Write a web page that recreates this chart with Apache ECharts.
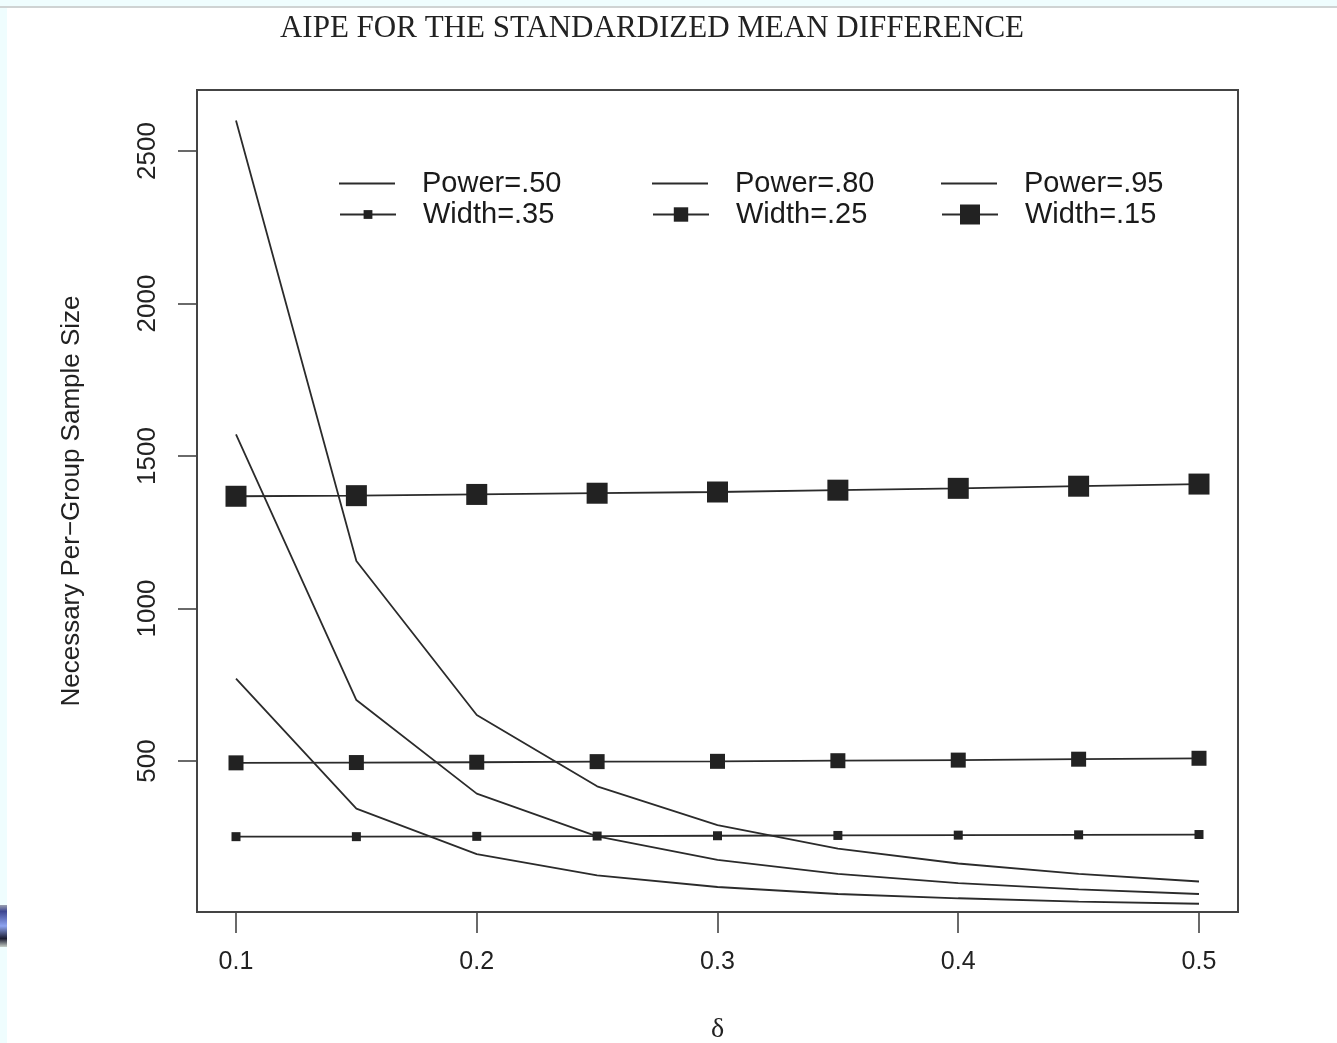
<!DOCTYPE html>
<html>
<head>
<meta charset="utf-8">
<script src="https://cdn.jsdelivr.net/npm/echarts@6/dist/echarts.min.js"></script>
<style>
html,body{margin:0;padding:0;background:#fff;}
#chart{width:1337px;height:1043px;}
</style>
</head>
<body>
<div id="chart"></div>
<script>
// ---- data ----
const deltas = [0.10, 0.15, 0.20, 0.25, 0.30, 0.35, 0.40, 0.45, 0.50];
const power50 = [770, 344, 195, 125, 87, 64, 50, 39, 32];
const power80 = [1571, 700, 393, 253, 176, 130, 100, 79, 64];
const power95 = [2600, 1156, 651, 417, 290, 213, 164, 130, 105];
const width35 = [252, 252, 253, 254, 255, 256, 257, 258, 259];
const width25 = [494, 495, 496, 498, 499, 501, 503, 506, 509];
const width15 = [1368, 1370, 1374, 1378, 1382, 1388, 1394, 1401, 1408];
const xTicks = [0.1, 0.2, 0.3, 0.4, 0.5];
const yTicks = [500, 1000, 1500, 2000, 2500];
const titleText = 'AIPE FOR THE STANDARDIZED MEAN DIFFERENCE';
const xName = 'δ';
const yName = 'Necessary Per\u2212Group Sample Size';

const pair = arr => deltas.map((d, i) => [d, arr[i]]);
const LINE = '#2b2b2b';
const SANS = 'Liberation Sans, Arial, Helvetica, sans-serif';
const SERIF = 'Liberation Serif, Times New Roman, serif';

function powerSeries(name, arr) {
  return {
    name, type: 'line', data: pair(arr), symbol: 'none',
    lineStyle: { color: LINE, width: 1.8 }, itemStyle: { color: LINE },
    silent: true, z: 2
  };
}
function widthSeries(name, arr, size) {
  return {
    name, type: 'line', data: pair(arr), symbol: 'rect', symbolSize: size,
    showSymbol: true, showAllSymbol: true,
    lineStyle: { color: LINE, width: 1.8 }, itemStyle: { color: '#222', opacity: 1 },
    silent: true, z: 3
  };
}
const lineIcon = 'path://M0,0 L56,0 L56,2 L0,2 Z';
function legendFor(name, left, top, opts) {
  return Object.assign({
    data: [name], left, top, padding: 0, orient: 'horizontal',
    itemWidth: 56, itemHeight: 2, selectedMode: false,
    textStyle: { fontFamily: SANS, fontSize: 29, color: '#1a1a1a', padding: [0, 0, 0, 22] }
  }, opts || {});
}

const chart = echarts.init(document.getElementById('chart'), null, { renderer: 'canvas' });
chart.setOption({
  animation: false,
  backgroundColor: '#ffffff',
  title: {
    text: titleText, left: 647, top: 8, textAlign: 'center',
    textStyle: { fontFamily: SERIF, fontSize: 31, fontWeight: 'normal', color: '#222' }
  },
  grid: {
    left: 197, top: 90, width: 1041, height: 822, outerBoundsMode: 'none', containLabel: false,
    show: true, borderColor: '#444', borderWidth: 2, backgroundColor: 'transparent'
  },
  legend: [
    legendFor({ name: 'Power=.50', icon: lineIcon }, 339, 169),
    legendFor({ name: 'Power=.80', icon: lineIcon }, 652, 169),
    legendFor({ name: 'Power=.95', icon: lineIcon }, 941, 169),
    legendFor('Width=.35', 339, 200, { itemHeight: 11 }),
    legendFor('Width=.25', 652, 200, { itemHeight: 18 }),
    legendFor('Width=.15', 941, 200, { itemHeight: 25 })
  ],
  xAxis: {
    type: 'value', min: 0.0838, max: 0.5162,
    name: xName, nameLocation: 'middle', nameGap: 104,
    nameTextStyle: { fontFamily: SERIF, fontSize: 28, color: '#222' },
    axisLine: { show: false },
    axisTick: { show: true, inside: false, length: 21, customValues: xTicks, lineStyle: { color: '#444', width: 1.6 } },
    axisLabel: { customValues: xTicks, margin: 38, fontFamily: SANS, fontSize: 25, color: '#222',
      formatter: v => v.toFixed(1) },
    splitLine: { show: false }
  },
  yAxis: {
    type: 'value', min: 5, max: 2700,
    name: yName, nameLocation: 'middle', nameGap: 112, nameRotate: 90,
    nameTextStyle: { fontFamily: SANS, fontSize: 26, color: '#222' },
    axisLine: { show: false },
    axisTick: { show: true, inside: false, length: 19, customValues: yTicks, lineStyle: { color: '#444', width: 1.6 } },
    axisLabel: { customValues: yTicks, rotate: 90, margin: 36, fontFamily: SANS, fontSize: 26, color: '#222',
      formatter: v => String(Math.round(v)) },
    splitLine: { show: false }
  },
  graphic: [
    { type: 'rect', shape: { x: 0, y: 0, width: 1337, height: 6 }, style: { fill: '#effdfe' }, silent: true, z: -10 },
    { type: 'rect', shape: { x: 0, y: 6, width: 1337, height: 2 }, style: { fill: '#cfd3d3' }, silent: true, z: -10 },
    { type: 'rect', shape: { x: 0, y: 8, width: 7, height: 1035 }, style: { fill: '#effdfe' }, silent: true, z: -10 },
    { type: 'rect', shape: { x: 0, y: 905, width: 7, height: 42 }, silent: true, z: -9,
      style: { fill: new echarts.graphic.LinearGradient(0, 0, 0, 1, [
        { offset: 0, color: '#9aa0b0' }, { offset: 0.15, color: '#3d4690' },
        { offset: 0.5, color: '#8ea4f0' }, { offset: 0.8, color: '#1a1c30' }, { offset: 1, color: '#c8d0c8' }]) } }
  ],
  series: [
    powerSeries('Power=.50', power50),
    powerSeries('Power=.80', power80),
    powerSeries('Power=.95', power95),
    widthSeries('Width=.35', width35, 9),
    widthSeries('Width=.25', width25, 15),
    widthSeries('Width=.15', width15, 21)
  ]
});
</script>
</body>
</html>
